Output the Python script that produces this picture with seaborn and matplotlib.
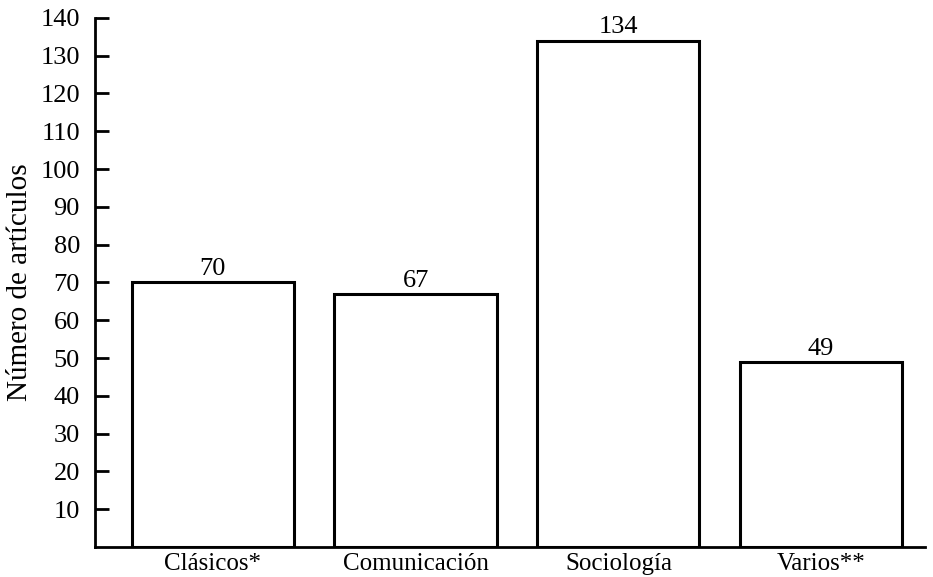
import pandas as pd
import matplotlib.pyplot as plt
import seaborn as sns

# Data
categories = ['Clásicos*', 'Comunicación', 'Sociología', 'Varios**']
articles = [70, 67, 134, 49]
y_ticks = [10, 20, 30, 40, 50, 60, 70, 80, 90, 100, 110, 120, 130, 140]

df = pd.DataFrame({'categoria': categories, 'articulos': articles})

sns.set_style('white')
plt.rcParams['font.family'] = ['Liberation Serif', 'DejaVu Serif']
# plain black text like the printed original
plt.rcParams.update({'text.color': 'black', 'axes.labelcolor': 'black',
                     'xtick.color': 'black', 'ytick.color': 'black'})

fig = plt.figure(figsize=(9.33, 5.77), dpi=100)
ax = fig.add_axes([0.102, 0.052, 0.889, 0.917])

sns.barplot(data=df, x='categoria', y='articulos', color='white',
            edgecolor='black', linewidth=2.2, width=0.8, ax=ax)

# Value labels above bars
for i, v in enumerate(articles):
    ax.text(i, v + 0.6, str(v), ha='center', va='bottom', fontsize=19)

ax.set_xlim(-0.58, 3.51)
ax.set_ylim(0, 140)
ax.set_yticks(y_ticks)
ax.set_yticklabels([str(t) for t in y_ticks], fontsize=19)
ax.tick_params(axis='y', left=True, direction='in', length=10, width=2, pad=11)
ax.tick_params(axis='x', bottom=False, labelsize=18, pad=1)

ax.set_xlabel('')
ax.set_ylabel('Número de artículos', fontsize=21, labelpad=5)

for side in ['top', 'right']:
    ax.spines[side].set_visible(False)
for side in ['left', 'bottom']:
    ax.spines[side].set_linewidth(2)
    ax.spines[side].set_color('black')

plt.savefig('out.png', dpi=100)
